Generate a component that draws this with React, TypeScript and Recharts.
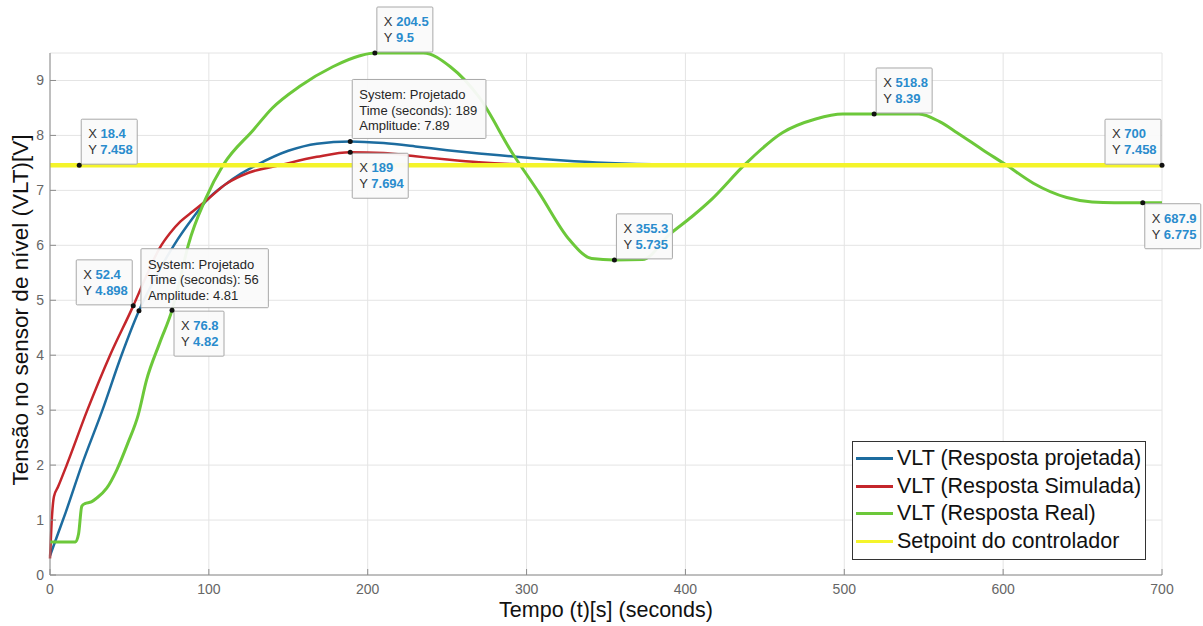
import React from "react";
import {
  LineChart,
  Line,
  XAxis,
  YAxis,
  CartesianGrid,
  ReferenceDot,
  Legend,
} from "recharts";

const FONT = '"Liberation Sans", Arial, Helvetica, sans-serif';

const X_TICKS = [0, 100, 200, 300, 400, 500, 600, 700];
const Y_TICKS = [0, 1, 2, 3, 4, 5, 6, 7, 8, 9];

// VLT (Resposta projetada)
const PROJ_T = [0, 5, 10, 20, 33, 45, 56, 67, 78, 90, 99, 110, 120, 130, 150, 168, 189, 210, 230, 250, 270, 290, 310, 330, 360, 400, 450, 550, 700];
const PROJ_V = [0.35, 0.75, 1.15, 2.0, 3.0, 4.0, 4.81, 5.45, 6.0, 6.5, 6.83, 7.1, 7.3, 7.46, 7.72, 7.85, 7.89, 7.86, 7.8, 7.73, 7.67, 7.62, 7.57, 7.53, 7.49, 7.465, 7.458, 7.458, 7.458];

// VLT (Resposta Simulada)
const SIM_T = [0, 1, 2.5, 5, 10.5, 23.5, 37.8, 52.4, 60, 69, 75.5, 82, 90, 99, 111, 125, 145, 168, 189, 210, 230, 250, 270, 290, 320, 360, 700];
const SIM_V = [0.3, 0.95, 1.43, 1.6, 2.0, 3.0, 4.0, 4.898, 5.4, 5.95, 6.22, 6.43, 6.62, 6.83, 7.12, 7.32, 7.46, 7.61, 7.694, 7.68, 7.62, 7.56, 7.51, 7.48, 7.465, 7.458, 7.458];

// VLT (Resposta Real)
const REAL_T = [0, 16, 18, 20, 22, 26, 29.4, 35.7, 42, 49, 55.5, 60.8, 69, 76.8, 82, 87, 98, 109, 128, 140, 157, 178, 195, 204.5, 235, 252, 270, 291, 308, 327, 341, 355.3, 373, 390, 404, 417, 437, 461, 482, 499, 518.8, 547, 560, 571, 587, 602, 619, 640, 656, 670, 687.9, 700];
const REAL_V = [0.6, 0.6, 0.75, 1.25, 1.3, 1.33, 1.4, 1.58, 1.91, 2.4, 2.91, 3.55, 4.22, 4.82, 5.4, 6.0, 6.85, 7.46, 8.1, 8.5, 8.89, 9.25, 9.45, 9.5, 9.5, 9.25, 8.7, 7.68, 6.95, 6.1, 5.76, 5.735, 5.74, 6.2, 6.52, 6.85, 7.458, 8.05, 8.3, 8.39, 8.39, 8.39, 8.25, 8.05, 7.74, 7.46, 7.13, 6.87, 6.79, 6.775, 6.775, 6.775];

// Setpoint do controlador
const SET_T = [0, 700];
const SET_V = [7.458, 7.458];

const SERIES = [
  { name: "VLT (Resposta projetada)", color: "#1d6c9f", width: 2.5, t: PROJ_T, v: PROJ_V },
  { name: "VLT (Resposta Simulada)", color: "#c4262b", width: 2.5, t: SIM_T, v: SIM_V },
  { name: "VLT (Resposta Real)", color: "#6cc83a", width: 3, t: REAL_T, v: REAL_V },
  { name: "Setpoint do controlador", color: "#f4f42a", width: 4.5, t: SET_T, v: SET_V },
];

// data tips: [x, y, placement, lines]
const TIPS: [number, number, string, string[]][] = [
  [18.4, 7.458, "ur", ["X", "18.4", "Y", "7.458"]],
  [204.5, 9.5, "ur", ["X", "204.5", "Y", "9.5"]],
  [189, 7.89, "ur3", ["System: Projetado", "Time (seconds): 189", "Amplitude: 7.89"]],
  [189, 7.694, "dr", ["X", "189", "Y", "7.694"]],
  [52.4, 4.898, "ul", ["X", "52.4", "Y", "4.898"]],
  [56, 4.81, "ur3", ["System: Projetado", "Time (seconds): 56", "Amplitude: 4.81"]],
  [76.8, 4.82, "dr", ["X", "76.8", "Y", "4.82"]],
  [355.3, 5.735, "ur", ["X", "355.3", "Y", "5.735"]],
  [518.8, 8.39, "ur", ["X", "518.8", "Y", "8.39"]],
  [700, 7.458, "ul", ["X", "700", "Y", "7.458"]],
  [687.9, 6.775, "dr", ["X", "687.9", "Y", "6.775"]],
];

const toPoints = (t: number[], v: number[]) => t.map((x, i) => ({ t: x, v: v[i] }));

function Tip({ cx, cy, tip }: any) {
  const [, , place, lines] = tip;
  const three = place === "ur3";
  let w: number, h: number;
  if (three) {
    w = 14 + 6.3 * Math.max(...lines.map((s: string) => s.length));
    h = 59;
  } else {
    w = 14 + 6 * Math.max(lines[1].length, lines[3].length) + 12;
    h = 45;
  }
  let bx = cx + 2;
  let by = cy - h - 1;
  if (place === "dr") by = cy + 1;
  if (place === "ul") bx = cx - w - 1;
  if (three) by = cy - h - 3;
  return (
    <g>
      <rect x={bx} y={by} width={w} height={h} fill="#fafafa" fillOpacity={0.95} stroke="#a8a8a8" strokeWidth={1} rx={1} />
      {three ? (
        lines.map((s: string, i: number) => (
          <text key={i} x={bx + 7} y={by + 20 + i * 15.5} fontSize={13} fill="#262626" fontFamily={FONT}>
            {s}
          </text>
        ))
      ) : (
        <>
          <text x={bx + 7} y={by + 19} fontSize={13} fontFamily={FONT}>
            <tspan fill="#333">{lines[0]} </tspan>
            <tspan fill="#2a8ccd" fontWeight="bold">{lines[1]}</tspan>
          </text>
          <text x={bx + 7} y={by + 35} fontSize={13} fontFamily={FONT}>
            <tspan fill="#333">{lines[2]} </tspan>
            <tspan fill="#2a8ccd" fontWeight="bold">{lines[3]}</tspan>
          </text>
        </>
      )}
      <circle cx={cx} cy={cy} r={2.5} fill="#111" />
    </g>
  );
}

const BottomTick = ({ x, y, payload }: any) => (
  <g>
    <line x1={x} y1={y} x2={x} y2={y - 6} stroke="#8c8c8c" />
    <text x={x} y={y + 19} textAnchor="middle" fontSize={14} fill="#666" fontFamily={FONT}>
      {payload.value}
    </text>
  </g>
);
const TopTick = ({ x, y }: any) => <line x1={x} y1={y} x2={x} y2={y + 6} stroke="#8c8c8c" />;
const LeftTick = ({ x, y, payload }: any) => (
  <g>
    <line x1={x} y1={y} x2={x + 6} y2={y} stroke="#8c8c8c" />
    <text x={x - 6} y={y + 5} textAnchor="end" fontSize={14} fill="#666" fontFamily={FONT}>
      {payload.value}
    </text>
  </g>
);
const RightTick = ({ x, y }: any) => <line x1={x} y1={y} x2={x - 6} y2={y} stroke="#8c8c8c" />;

function LegendBox() {
  return (
    <div style={{ border: "1px solid #333", background: "#fff", padding: "3px 0 4px 3px", fontFamily: FONT }}>
      {SERIES.map((s) => (
        <div key={s.name} style={{ display: "flex", alignItems: "center", height: 27.5 }}>
          <span style={{ width: 37, height: 3, background: s.color, marginRight: 4, flexShrink: 0 }} />
          <span style={{ fontSize: 21.5, color: "#111", whiteSpace: "nowrap" }}>{s.name}</span>
        </div>
      ))}
    </div>
  );
}

export default function App() {
  return (
    <div style={{ position: "absolute", left: 0, top: 0, width: 1203, height: 626, background: "#fff" }}>
      <LineChart width={1203} height={626} margin={{ top: 53, right: 41, bottom: 0, left: 0 }}>
        <CartesianGrid stroke="#e4e4e4" />
        <XAxis
          dataKey="t"
          type="number"
          domain={[0, 700]}
          ticks={X_TICKS}
          height={51}
          tickSize={0}
          tickMargin={0}
          tick={<BottomTick />}
          axisLine={{ stroke: "#8c8c8c" }}
        />
        <XAxis
          xAxisId="top"
          orientation="top"
          type="number"
          domain={[0, 700]}
          ticks={X_TICKS}
          height={0}
          tickSize={0}
          tickMargin={0}
          tick={<TopTick />}
          axisLine={{ stroke: "#8c8c8c" }}
        />
        <YAxis
          type="number"
          domain={[0, 9.5]}
          ticks={Y_TICKS}
          width={50}
          tickSize={0}
          tickMargin={0}
          tick={<LeftTick />}
          axisLine={{ stroke: "#8c8c8c" }}
        />
        <YAxis
          yAxisId="right"
          orientation="right"
          type="number"
          domain={[0, 9.5]}
          ticks={Y_TICKS}
          width={0}
          tickSize={0}
          tickMargin={0}
          tick={<RightTick />}
          axisLine={{ stroke: "#8c8c8c" }}
        />
        {SERIES.map((s) => (
          <Line
            key={s.name}
            name={s.name}
            data={toPoints(s.t, s.v)}
            dataKey="v"
            type="monotone"
            stroke={s.color}
            strokeWidth={s.width}
            dot={false}
            activeDot={false}
            isAnimationActive={false}
          />
        ))}
        {TIPS.map((tip, i) => (
          <ReferenceDot
            key={i}
            x={tip[0]}
            y={tip[1]}
            r={2.5}
            ifOverflow="visible"
            shape={(p: any) => <Tip cx={p.cx} cy={p.cy} tip={tip} />}
          />
        ))}
        <Legend
          layout="horizontal"
          verticalAlign="middle"
          align="center"
          content={() => <LegendBox />}
          wrapperStyle={{ left: 852, top: 441, width: 294, height: 113 }}
        />
        <text x={606} y={617} textAnchor="middle" fontSize={21.5} fill="#111" fontFamily={FONT}>
          Tempo (t)[s] (seconds)
        </text>
        <text
          x={0}
          y={0}
          transform="translate(28,310) rotate(-90)"
          textAnchor="middle"
          fontSize={22.5}
          fill="#111"
          fontFamily={FONT}
        >
          Tensão no sensor de nível (VLT)[V]
        </text>
      </LineChart>
    </div>
  );
}
